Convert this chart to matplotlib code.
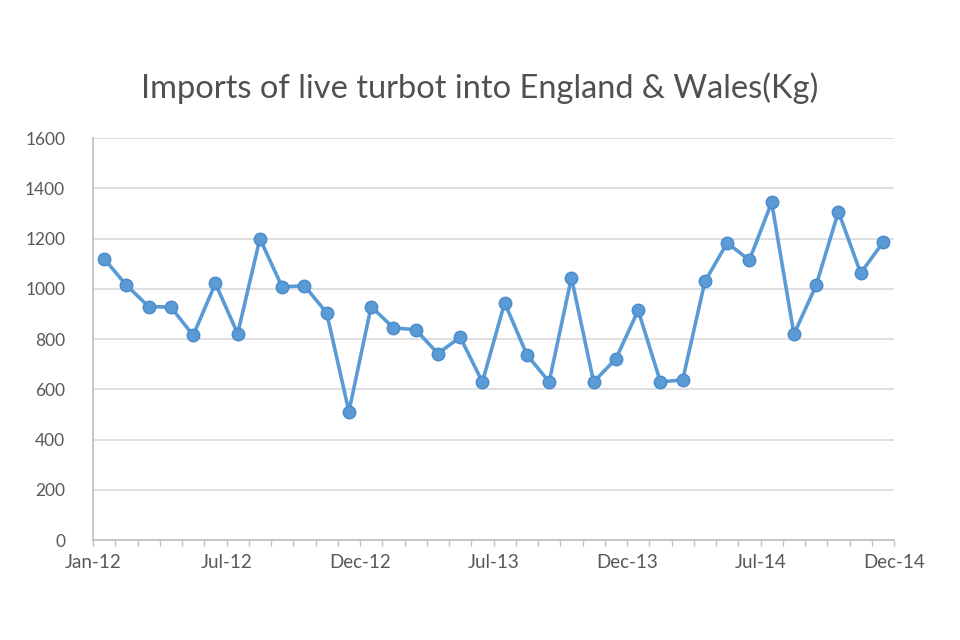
import matplotlib.pyplot as plt
import numpy as np

# monthly imports (Kg), Jan-12 .. Dec-14
months = ['Jan-12', 'Feb-12', 'Mar-12', 'Apr-12', 'May-12', 'Jun-12',
          'Jul-12', 'Aug-12', 'Sep-12', 'Oct-12', 'Nov-12', 'Dec-12',
          'Jan-13', 'Feb-13', 'Mar-13', 'Apr-13', 'May-13', 'Jun-13',
          'Jul-13', 'Aug-13', 'Sep-13', 'Oct-13', 'Nov-13', 'Dec-13',
          'Jan-14', 'Feb-14', 'Mar-14', 'Apr-14', 'May-14', 'Jun-14',
          'Jul-14', 'Aug-14', 'Sep-14', 'Oct-14', 'Nov-14', 'Dec-14']
imports_kg = [1120, 1015, 930, 928, 815, 1022, 822, 1200, 1008, 1013, 905, 512,
              930, 845, 838, 743, 808, 630, 945, 738, 630, 1045, 630, 722,
              915, 630, 638, 1030, 1183, 1115, 1345, 820, 1015, 1308, 1063, 1185]
tick_labels = ['Jan-12', 'Jul-12', 'Dec-12', 'Jul-13', 'Dec-13', 'Jul-14', 'Dec-14']

plt.rcParams['font.family'] = ['Lato', 'DejaVu Sans']
grey = '#595959'

fig = plt.figure(figsize=(9.6, 6.4), dpi=100)
ax = fig.add_axes([0.0969, 0.156, 0.8344, 0.628])

x = np.arange(len(imports_kg))
ax.plot(x, imports_kg, color='#5B9BD5', linewidth=2.6, marker='o',
        markersize=9, markerfacecolor='#5B9BD5', markeredgecolor='#4A8ACB',
        markeredgewidth=1, zorder=3)

ax.set_xlim(-0.5, len(imports_kg) - 0.5)
ax.set_ylim(0, 1600)
ax.set_yticks(range(0, 1601, 200))
ax.yaxis.grid(True, color='#D9D9D9', linewidth=1.2)
ax.set_axisbelow(True)

ax.set_xticks(np.arange(-0.5, len(imports_kg), 6))
ax.set_xticklabels(tick_labels)
ax.set_xticks(np.arange(-0.5, len(imports_kg), 1), minor=True)

for s in ['top', 'right']:
    ax.spines[s].set_visible(False)
for s in ['left', 'bottom']:
    ax.spines[s].set_color('#BFBFBF')
    ax.spines[s].set_linewidth(1.2)

ax.tick_params(axis='y', length=0, pad=20, labelsize=12.5, labelcolor=grey)
ax.tick_params(axis='x', which='both', length=4, width=1, color='#BFBFBF',
               pad=6, labelsize=13.5, labelcolor=grey)

fig.text(0.5, 0.862, 'Imports of live turbot into England & Wales(Kg)',
         ha='center', va='center', fontsize=23.5, color='#505050')

plt.savefig('out.png', dpi=100)
